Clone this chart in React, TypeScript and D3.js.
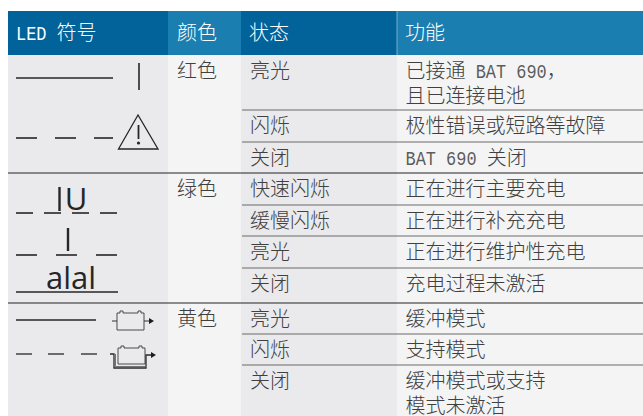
import React, { useEffect, useRef } from 'react';
import * as d3 from 'd3';

const headers = ['LED 符号', '颜色', '状态', '功能'];
const colors = ['红色', '绿色', '黄色'];
const statuses = ['亮光', '闪烁', '关闭', '快速闪烁', '缓慢闪烁', '亮光', '关闭', '亮光', '闪烁', '关闭'];
const functions = [
  ['已接通 BAT 690，', '且已连接电池'],
  ['极性错误或短路等故障'],
  ['BAT 690 关闭'],
  ['正在进行主要充电'],
  ['正在进行补充充电'],
  ['正在进行维护性充电'],
  ['充电过程未激活'],
  ['缓冲模式'],
  ['支持模式'],
  ['缓冲模式或支持', '模式未激活'],
];
const colorGroupStart = [0, 3, 7];

const colEdges = [8, 168, 241, 397, 643];
const rowEdges = [55, 110, 142, 173, 205, 236, 268, 303, 334, 365, 416];
const CJK = '"Noto Sans CJK SC", sans-serif';
const LATIN = '"Liberation Mono", monospace';
const TEXT = '#404040';
const SYMBOL = '#262626';
const LATIN_ADV = 10.15; // condensed monospaced advance of the latin runs
const CJK_ADV = 20;

const App: React.FC = () => {
  const ref = useRef<SVGSVGElement>(null);

  useEffect(() => {
    const svg = d3.select(ref.current);
    svg.selectAll('*').remove();

    const col = d3.scaleOrdinal<number, number>().domain(d3.range(5)).range(colEdges);
    const row = d3.scaleOrdinal<number, number>().domain(d3.range(11)).range(rowEdges);

    // cell backgrounds
    const headFill = ['#02639b', '#1b7eb0', '#02639b', '#1b7eb0'];
    const bodyFill = ['#eaeaec', '#f4f4f4', '#eaeaec', '#f4f4f4'];
    headers.forEach((_, i) => {
      svg.append('rect').attr('x', col(i)).attr('y', 11).attr('width', col(i + 1) - col(i)).attr('height', 44).attr('fill', headFill[i]);
      svg.append('rect').attr('x', col(i)).attr('y', 55).attr('width', col(i + 1) - col(i)).attr('height', 361).attr('fill', bodyFill[i]);
    });

    const writeText = (str: string, x: number, y: number, fill: string) => {
      // latin runs are monospaced and condensed in the original
      let cursor = x;
      str.split(/([A-Za-z0-9 ]+)/).filter(Boolean).forEach((part) => {
        const latin = /^[A-Za-z0-9 ]+$/.test(part);
        if (latin) {
          const sx = LATIN_ADV / 12;
          svg.append('text')
            .attr('transform', `translate(${cursor},${y}) scale(${sx},1)`)
            .attr('fill', fill)
            .attr('fill-opacity', fill === TEXT ? 0.85 : 1)
            .attr('font-family', LATIN)
            .attr('font-size', 20)
            .style('white-space', 'pre')
            .text(part);
          cursor += part.length * LATIN_ADV;
        } else {
          svg.append('text')
            .attr('x', cursor)
            .attr('y', y)
            .attr('fill', fill)
            .attr('font-family', CJK)
            .attr('font-weight', 300)
            .attr('font-size', 20)
            .text(part);
          cursor += part.length * CJK_ADV;
        }
      });
    };

    // header
    headers.forEach((h, i) => writeText(h, col(i) + (i === 1 ? 9 : 8), 40, '#ffffff'));
    svg.append('line').attr('x1', col(3)).attr('x2', col(3)).attr('y1', 11).attr('y2', 55).attr('stroke', '#8fbdd6').attr('stroke-width', 0.8);

    // body
    statuses.forEach((s, i) => {
      const top = row(i);
      writeText(s, col(2) + 9, top + 23, TEXT);
      functions[i].forEach((line, k) => writeText(line, col(3) + 8.5, top + 23 + k * 25, TEXT));
      if (i > 0) {
        const major = colorGroupStart.includes(i);
        svg.append('line')
          .attr('x1', major ? col(0) : col(2) + 1)
          .attr('x2', 643)
          .attr('y1', top)
          .attr('y2', top)
          .attr('stroke', major ? '#222222' : '#6b6b6b')
          .attr('stroke-width', major ? 1 : 1.2);
      }
    });
    colorGroupStart.forEach((r, i) => writeText(colors[i], col(1) + 9, row(r) + 23, TEXT));

    // LED symbols
    const seg = (x1: number, x2: number, y: number, w = 1.6) =>
      svg.append('line').attr('x1', x1).attr('x2', x2).attr('y1', y).attr('y2', y).attr('stroke', SYMBOL).attr('stroke-width', w);
    const stroke = (d: string, w = 1.2, color = SYMBOL) =>
      svg.append('path').attr('d', d).attr('fill', 'none').attr('stroke', color).attr('stroke-width', w);
    const glyph = (s: string, x: number, y: number, size: number) =>
      svg.append('text').attr('x', x).attr('y', y).attr('text-anchor', 'middle').attr('font-family', '"Open Sans", sans-serif').attr('font-size', size).attr('fill', SYMBOL).text(s);

    seg(16, 113, 78);
    stroke('M139 63V90', 1.6);
    [[16, 37], [55, 76], [94, 113]].forEach(([a, b]) => seg(a, b, 138));
    stroke('M138 115L118.5 149H158Z', 1.3);
    stroke('M138.5 125L138.5 139', 1.8);
    svg.append('circle').attr('cx', 138.5).attr('cy', 143).attr('r', 1.6).attr('fill', SYMBOL);

    [[16, 33], [44, 61], [72, 89], [100, 117]].forEach(([a, b]) => seg(a, b, 213));
    stroke('M59.5 187V211', 2.4);
    glyph('U', 76, 210, 31);
    [[16, 37], [56, 77], [96, 117]].forEach(([a, b]) => seg(a, b, 255));
    stroke('M68 228V251', 2.4);
    seg(16, 118, 292);
    glyph('alal', 71, 289, 31);

    seg(16, 96, 320, 1.3);
    [[16, 32], [48, 64], [81, 97]].forEach(([a, b]) => seg(a, b, 354, 1.3));

    const battery = (x: number, y: number, w: number, h: number) =>
      stroke(`M${x} ${y + 2}H${x + 3}V${y}H${x + 6}V${y + 2}H${x + w - 6}V${y}H${x + w - 3}V${y + 2}H${x + w}V${y + h}H${x}Z`, 1, '#4a4a4a');
    const arrow = (x: number, y: number) =>
      svg.append('path').attr('d', `M${x} ${y - 3}L${x + 5} ${y}L${x} ${y + 3}Z`).attr('fill', '#1c1c1c');

    battery(117, 311, 27, 19);
    stroke('M112 321H117M144 321H150', 1, '#333333');
    arrow(149, 321);

    battery(118, 346, 27, 18);
    stroke('M110 354H114V368H146V355H151', 1.3, '#2a2a2a');
    stroke('M115.5 354V366.5H145', 0.8, '#555555');
    arrow(151, 355);
  }, []);

  return (
    <svg
      ref={ref}
      width={643}
      height={416}
      style={{ position: 'absolute', left: 0, top: 0, background: '#ffffff' }}
    />
  );
};

export default App;
